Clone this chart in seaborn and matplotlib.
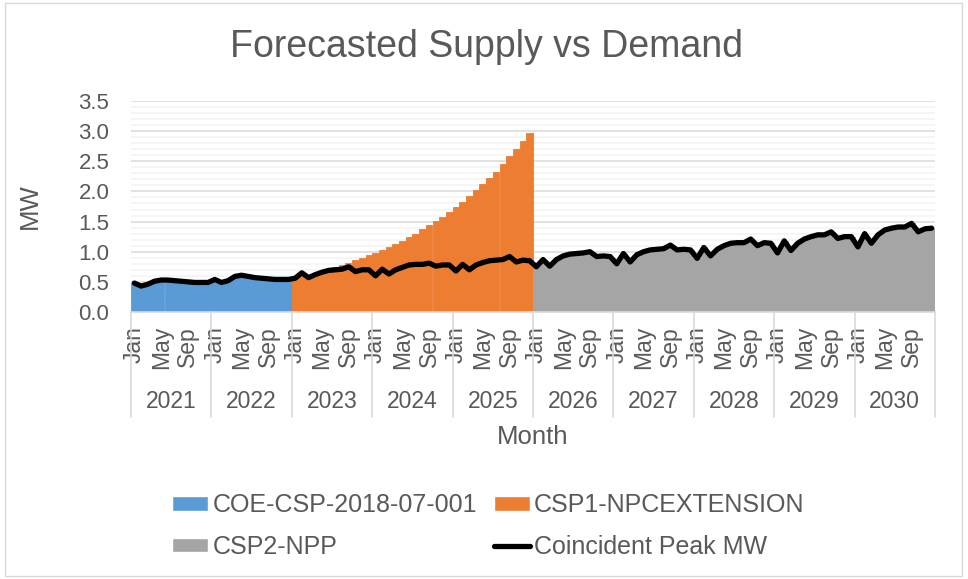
import numpy as np
import pandas as pd
import seaborn as sns
import matplotlib.pyplot as plt
from matplotlib.patches import Patch, Rectangle
from matplotlib.lines import Line2D
from matplotlib.ticker import MultipleLocator, FixedLocator

# ---- data (MW, monthly Jan 2021 .. Dec 2030) ----
years = [2021, 2022, 2023, 2024, 2025, 2026, 2027, 2028, 2029, 2030]
month_names = ["Jan", "Feb", "Mar", "Apr", "May", "Jun",
               "Jul", "Aug", "Sep", "Oct", "Nov", "Dec"]

# coincident peak, split by the supply contract that covers it
peak_2021_2022 = [0.48, 0.43, 0.46, 0.51, 0.53, 0.53, 0.52, 0.51, 0.50, 0.49, 0.49, 0.49,
                  0.54, 0.49, 0.52, 0.59, 0.61, 0.59, 0.57, 0.56, 0.55, 0.54, 0.54, 0.54]
peak_2023_2025 = [0.56, 0.65, 0.57, 0.62, 0.66, 0.69, 0.70, 0.71, 0.75, 0.67, 0.70, 0.70,
                  0.60, 0.71, 0.63, 0.70, 0.74, 0.78, 0.79, 0.79, 0.81, 0.76, 0.78, 0.78,
                  0.68, 0.79, 0.70, 0.78, 0.82, 0.85, 0.86, 0.87, 0.92, 0.83, 0.86, 0.85]
peak_2026_2030 = [0.75, 0.87, 0.76, 0.87, 0.93, 0.96, 0.97, 0.98, 1.00, 0.92, 0.93, 0.92,
                  0.80, 0.97, 0.83, 0.95, 1.00, 1.03, 1.04, 1.05, 1.11, 1.03, 1.04, 1.03,
                  0.89, 1.07, 0.93, 1.04, 1.10, 1.14, 1.15, 1.15, 1.21, 1.10, 1.15, 1.14,
                  0.98, 1.18, 1.02, 1.14, 1.21, 1.25, 1.28, 1.28, 1.33, 1.22, 1.25, 1.25,
                  1.08, 1.30, 1.14, 1.28, 1.36, 1.39, 1.41, 1.41, 1.47, 1.33, 1.38, 1.39]

# supply columns
coe_csp = peak_2021_2022
csp1_npc_extension = [0.57, 0.60, 0.62, 0.65, 0.68, 0.71, 0.75, 0.78, 0.82, 0.86, 0.90, 0.94,
                      0.98, 1.03, 1.08, 1.13, 1.18, 1.24, 1.30, 1.37, 1.44, 1.51, 1.58, 1.66,
                      1.74, 1.83, 1.92, 2.02, 2.12, 2.22, 2.33, 2.45, 2.58, 2.70, 2.84, 2.97]
csp2_npp = peak_2026_2030

series_names = ["COE-CSP-2018-07-001", "CSP1-NPCEXTENSION", "CSP2-NPP"]
colors = {"COE-CSP-2018-07-001": "#5B9BD5",
          "CSP1-NPCEXTENSION": "#ED7D31",
          "CSP2-NPP": "#A5A5A5"}

peak = peak_2021_2022 + peak_2023_2025 + peak_2026_2030
n_months = len(peak)

supply = pd.DataFrame({
    "idx": np.arange(n_months),
    "series": [series_names[0]] * len(coe_csp)
              + [series_names[1]] * len(csp1_npc_extension)
              + [series_names[2]] * len(csp2_npp),
    "MW": coe_csp + csp1_npc_extension + csp2_npp,
})

# ---- plot ----
sns.set_theme(style="white")
plt.rcParams["font.family"] = ["Liberation Sans", "DejaVu Sans"]
txt = "#595959"

fig = plt.figure(figsize=(9.68, 5.79), dpi=100)
ax = fig.add_axes([131 / 968, 1 - 312 / 579, 804 / 968, 211 / 579])

sns.barplot(data=supply, x="idx", y="MW", hue="series", palette=colors,
            dodge=False, width=1.0, errorbar=None, saturation=1,
            legend=False, ax=ax)
for p in ax.patches:
    p.set_edgecolor(p.get_facecolor())
    p.set_linewidth(0.6)

sns.lineplot(x=np.arange(n_months), y=peak, color="black", linewidth=3.8,
             solid_joinstyle="round", solid_capstyle="round", ax=ax)

ax.set_xlim(-0.5, n_months - 0.5)
ax.set_ylim(0, 3.5)

# gridlines
ax.set_axisbelow(True)
ax.yaxis.set_major_locator(MultipleLocator(0.5))
ax.yaxis.set_minor_locator(MultipleLocator(0.1))
ax.grid(axis="y", which="major", color="#d9d9d9", linewidth=1.1)
ax.grid(axis="y", which="minor", color="#f2f2f2", linewidth=1.1)
ax.grid(axis="x", visible=False)
ax.yaxis.set_major_formatter(plt.FuncFormatter(lambda v, _: f"{v:.1f}"))
ax.tick_params(axis="y", which="both", length=0, labelsize=16, labelcolor=txt, pad=15.5)

# month labels (Jan / May / Sep)
tick_pos = [i for i in range(n_months) if i % 12 in (0, 4, 8)]
ax.xaxis.set_major_locator(FixedLocator(tick_pos))
ax.set_xticklabels([month_names[i % 12] for i in tick_pos], rotation=90)
ax.tick_params(axis="x", length=0, labelsize=16.5, labelcolor=txt, pad=10)

for s in ["top", "right", "left"]:
    ax.spines[s].set_visible(False)
ax.spines["bottom"].set_color("#d9d9d9")
ax.spines["bottom"].set_linewidth(1.2)

# year labels and separators
trans = ax.get_xaxis_transform()
sep_bottom = -(417 - 312) / 211
for k in range(len(years) + 1):
    ax.plot([k * 12 - 0.5] * 2, [0, sep_bottom], color="#d9d9d9", lw=1.2,
            transform=trans, clip_on=False)
for k, yr in enumerate(years):
    ax.text(k * 12 + 5.5, -(402 - 312) / 211, str(yr), transform=trans,
            ha="center", va="center", fontsize=16.5, color=txt)

ax.set_xlabel("Month", fontsize=18.5, color=txt)
ax.xaxis.set_label_coords(0.5, -(425 - 312) / 211)
ax.set_ylabel("MW", fontsize=18.5, color=txt)
ax.yaxis.set_label_coords(-(131 - 42) / 804, 0.5)

fig.suptitle("Forecasted Supply vs Demand", x=0.503, y=1 - 47 / 579,
             va="center", fontsize=27, color=txt)

handles = [Patch(facecolor=colors[series_names[0]]),
           Patch(facecolor=colors[series_names[2]]),
           Patch(facecolor=colors[series_names[1]]),
           Line2D([0], [0], color="black", lw=3.8, solid_capstyle="round")]
labels = [series_names[0], series_names[2], series_names[1], "Coincident Peak MW"]
fig.legend(handles, labels, ncol=2, loc="center", bbox_to_anchor=(0.5046, 1 - 526 / 579),
           frameon=False, fontsize=18, labelcolor=txt, handlelength=1.45,
           handleheight=0.5, handletextpad=0.16, columnspacing=0.68, labelspacing=0.7)

# chart border
fig.patches.append(Rectangle((5 / 968, 3 / 579), 957 / 968, 573 / 579,
                             transform=fig.transFigure, fill=False,
                             edgecolor="#d9d9d9", lw=1))

fig.savefig("out.png", dpi=100)
